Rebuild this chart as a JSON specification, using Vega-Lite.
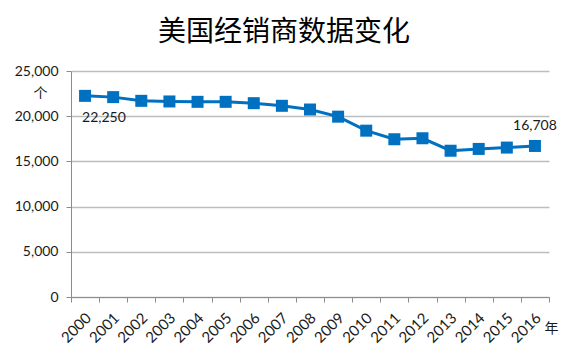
{
  "$schema": "https://vega.github.io/schema/vega-lite/v6.json",
  "width": 478,
  "height": 226,
  "autosize": {"type": "none"},
  "padding": {"left": 71, "top": 71, "right": 19, "bottom": 60},
  "background": "white",
  "title": {
    "text": "美国经销商数据变化",
    "font": "Noto Sans CJK SC",
    "fontSize": 28,
    "fontWeight": "normal",
    "color": "#000000",
    "anchor": "middle",
    "frame": "group",
    "dx": -26,
    "offset": 17
  },
  "config": {
    "view": {"stroke": null},
    "axis": {
      "labelFont": "Lato",
      "labelFontSize": 14,
      "labelColor": "#1a1a1a",
      "titleFont": "Noto Sans CJK SC",
      "titleFontSize": 14,
      "titleFontWeight": "normal",
      "titleColor": "#1a1a1a",
      "domainColor": "#8c8c8c",
      "tickColor": "#8c8c8c",
      "gridColor": "#bdbdbd",
      "gridWidth": 1.5
    }
  },
  "data": {
    "values": [
      {"year": "2000", "count": 22250, "label": "22,250", "pos": "below"},
      {"year": "2001", "count": 22110, "label": "", "pos": "none"},
      {"year": "2002", "count": 21700, "label": "", "pos": "none"},
      {"year": "2003", "count": 21630, "label": "", "pos": "none"},
      {"year": "2004", "count": 21590, "label": "", "pos": "none"},
      {"year": "2005", "count": 21590, "label": "", "pos": "none"},
      {"year": "2006", "count": 21440, "label": "", "pos": "none"},
      {"year": "2007", "count": 21150, "label": "", "pos": "none"},
      {"year": "2008", "count": 20740, "label": "", "pos": "none"},
      {"year": "2009", "count": 19950, "label": "", "pos": "none"},
      {"year": "2010", "count": 18400, "label": "", "pos": "none"},
      {"year": "2011", "count": 17450, "label": "", "pos": "none"},
      {"year": "2012", "count": 17560, "label": "", "pos": "none"},
      {"year": "2013", "count": 16180, "label": "", "pos": "none"},
      {"year": "2014", "count": 16380, "label": "", "pos": "none"},
      {"year": "2015", "count": 16530, "label": "", "pos": "none"},
      {"year": "2016", "count": 16708, "label": "16,708", "pos": "above"}
    ]
  },
  "encoding": {
    "x": {
      "field": "year",
      "type": "ordinal",
      "scale": {"paddingInner": 0, "paddingOuter": 0},
      "axis": {
        "title": "年",
        "titleX": 480,
        "titleY": 31,
        "titleAlign": "center",
        "titleBaseline": "middle",
        "labelAngle": -45,
        "labelAlign": "right",
        "labelBaseline": "middle",
        "labelPadding": 13,
        "labelOffset": 3,
        "labelFontSize": 15,
        "tickBand": "extent",
        "tickSize": 5,
        "grid": false
      }
    },
    "y": {
      "field": "count",
      "type": "quantitative",
      "scale": {"domain": [0, 25000], "nice": false},
      "axis": {
        "title": "个",
        "titleAngle": 0,
        "titleX": -31,
        "titleY": 22,
        "titleAlign": "center",
        "titleBaseline": "middle",
        "values": [0, 5000, 10000, 15000, 20000, 25000],
        "format": ",.0f",
        "tickSize": 5,
        "labelPadding": 8,
        "grid": true
      }
    }
  },
  "layer": [
    {
      "mark": {"type": "line", "color": "#0070C0", "strokeWidth": 3}
    },
    {
      "mark": {"type": "point", "shape": "square", "filled": true, "opacity": 1, "color": "#0070C0", "size": 144}
    },
    {
      "transform": [{"filter": "datum.pos == 'below'"}],
      "mark": {"type": "text", "font": "Lato", "fontSize": 14, "color": "#1a1a1a", "align": "left", "dx": -3, "dy": 22},
      "encoding": {"text": {"field": "label"}}
    },
    {
      "transform": [{"filter": "datum.pos == 'above'"}],
      "mark": {"type": "text", "font": "Lato", "fontSize": 14, "color": "#1a1a1a", "align": "center", "dy": -20},
      "encoding": {"text": {"field": "label"}}
    }
  ]
}
